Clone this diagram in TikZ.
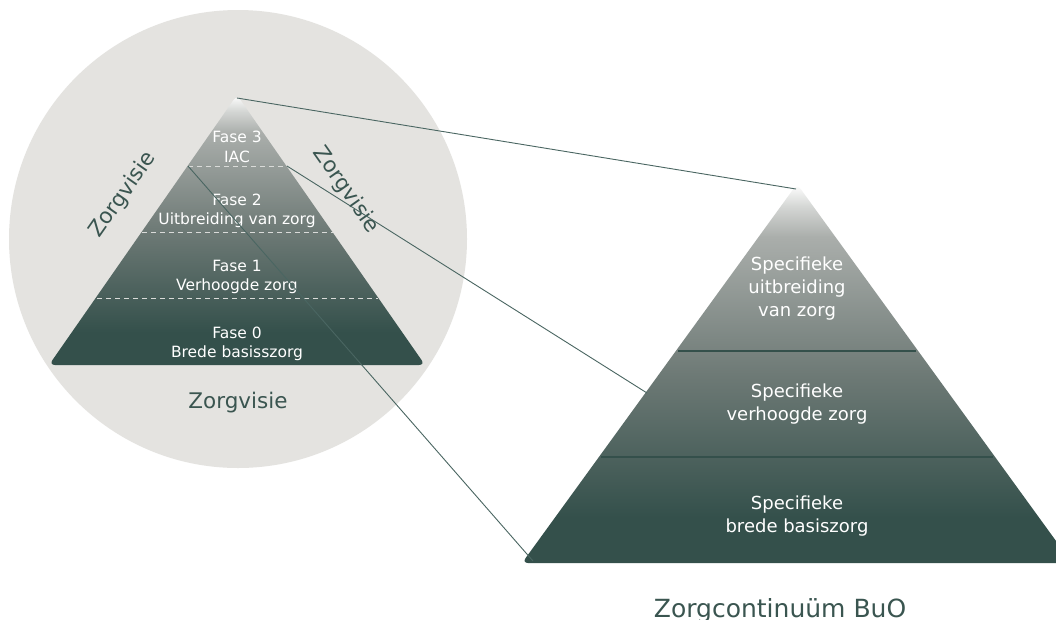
\documentclass[tikz,border=0pt]{standalone}
\usepackage{fontspec}
\setmainfont{DejaVu Sans}
\definecolor{circ}{HTML}{E4E3E0}
\definecolor{dark}{HTML}{34504B}
\definecolor{ink}{HTML}{3A5550}
\definecolor{linec}{HTML}{4A6662}
\definecolor{pmid}{HTML}{6E7A76}
\definecolor{plight}{HTML}{AAAEAB}
\definecolor{ptop}{HTML}{D4D6D4}
\definecolor{dashc}{HTML}{DADBD9}
\pgfdeclareverticalshading{pyr}{100bp}{color(0bp)=(dark); color(25bp)=(dark); color(31bp)=(dark); color(50bp)=(pmid); color(68bp)=(plight); color(72bp)=(ptop); color(75bp)=(white); color(100bp)=(white)}
\tikzset{
  conn/.style={draw=linec, line width=0.9pt},
  dashline/.style={draw=dashc, line width=1pt, dash pattern=on 5pt off 4pt},
  divider/.style={draw=dark, line width=2.5pt},
  pyrfill/.style={shading=pyr, rounded corners=6pt},
  lefttxt/.style={text=white, align=center, font=\fontsize{15.5}{19.5}\selectfont},
  righttxt/.style={text=white, align=center, font=\fontsize{18}{23}\selectfont},
  visie/.style={text=ink, font=\fontsize{21.5}{25}\selectfont},
  title/.style={text=ink, font=\fontsize{25}{30}\selectfont}
}
\begin{document}
\begin{tikzpicture}[x=1pt,y=-1pt]
\useasboundingbox[fill=white] (0,0) rectangle (1056,619);
% circle
\node[circle, fill=circ, minimum size=458pt, inner sep=0pt] (circ) at (238,239) {};
% left pyramid
\coordinate (LA) at (237,95);
\coordinate (LBL) at (49,365);
\coordinate (LBR) at (425,365);
\path[pyrfill] (LA) -- (LBL) -- (LBR) -- cycle;
\coordinate (d3l) at (188,166); \coordinate (d3r) at (287,166);
\coordinate (d2l) at (142,232); \coordinate (d2r) at (333,232);
\coordinate (d1l) at (97,298); \coordinate (d1r) at (378,298);
\draw[dashline] (d3l) -- (d3r);
\draw[dashline] (d2l) -- (d2r);
\draw[dashline] (d1l) -- (d1r);
\node[lefttxt] (f3) at (237,147) {Fase 3\\IAC};
\node[lefttxt] (f2) at (237,211) {Fase 2\\Uitbreiding van zorg};
\node[lefttxt] (f1) at (237,277) {Fase 1\\Verhoogde zorg};
\node[lefttxt] (f0) at (237,344) {Fase 0\\Brede basisszorg};
\node[visie, anchor=base] (zb) at (238,408) {Zorgvisie};
\node[visie, rotate=55] (zl) at (123,195) {Zorgvisie};
\node[visie, rotate=-55] (zr) at (346,190) {Zorgvisie};
% right pyramid
\coordinate (RA) at (797,184);
\coordinate (RBL) at (522,563);
\coordinate (RBR) at (1072,563);
\path[pyrfill] (RA) -- (RBL) -- (RBR) -- cycle;
\coordinate (r2l) at (678,351); \coordinate (r2r) at (916,351);
\coordinate (r1l) at (601,457); \coordinate (r1r) at (993,457);
\draw[divider] (r2l) -- (r2r);
\draw[divider] (r1l) -- (r1r);
\node[righttxt] (s2) at (797,289) {Specifieke\\uitbreiding\\van zorg};
\node[righttxt] (s1) at (797,404) {Specifieke\\verhoogde zorg};
\node[righttxt] (s0) at (797,516) {Specifieke\\brede basiszorg};
\node[title, anchor=base] (tt) at (780,617) {Zorgcontinuüm BuO};
% connectors
\coordinate (LAp) at (237,98);
\coordinate (RAp) at (796,189);
\coordinate (RE) at (647,393);
\coordinate (RC) at (533,561);
\draw[conn] (LAp) -- (RAp);
\draw[conn] (d3r) -- (RE);
\draw[conn] (d3l) -- (RC);
\end{tikzpicture}
\end{document}
